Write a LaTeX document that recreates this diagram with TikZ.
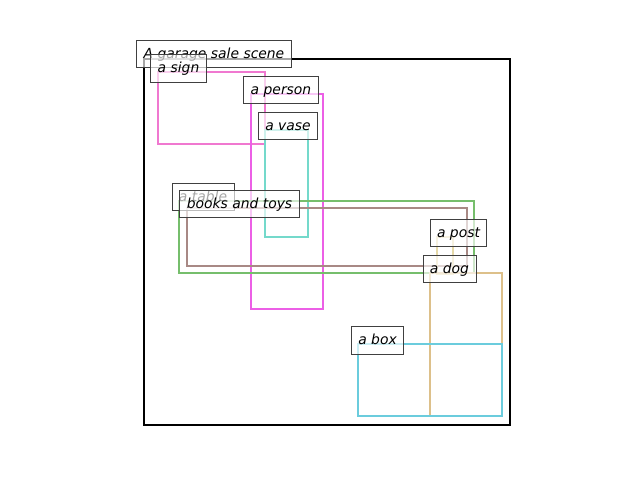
\documentclass[tikz,border=0pt]{standalone}
\usepackage{fontspec}
\setmainfont{DejaVu Sans}
\usepackage{xcolor}
\usetikzlibrary{positioning}
\definecolor{signpink}{HTML}{F078D0}
\definecolor{personmag}{HTML}{EC5FE6}
\definecolor{vaseteal}{HTML}{74D9CB}
\definecolor{tablebrown}{HTML}{A88985}
\definecolor{booksgreen}{HTML}{76BE6C}
\definecolor{posttan}{HTML}{E6D9A8}
\definecolor{dogtan}{HTML}{DDC08A}
\definecolor{boxcyan}{HTML}{6BCCDD}
\definecolor{ink}{HTML}{404040}
\tikzset{
    every picture/.style={line join=miter},
    scenebox/.style={draw=black,line width=1.6pt},
    objbox/.style={line width=1.6pt,line cap=round},
    tag/.style={draw=ink,line width=0.6pt,fill=white,fill opacity=0.65,text opacity=1,
      font=\itshape,inner xsep=5pt,inner ysep=0pt,minimum height=19.8pt,
      text height=1.5ex,text depth=0.4ex}
}

\begin{document}
\begin{tikzpicture}[x=0.72pt,y=-0.72pt]
  \useasboundingbox (0,0) rectangle (640,480);
  \draw[scenebox] (144,59) rectangle (510,425);

  % object boxes
  \draw[objbox,signpink] (158,72) rectangle (265,144);
  \draw[objbox,personmag] (251,94) rectangle (323,309);
  \draw[objbox,vaseteal] (265,130) rectangle (308,237);
  \draw[objbox,tablebrown] (187,208) rectangle (467,266);
  \draw[objbox,booksgreen] (179,201) rectangle (474,273);
  \draw[objbox,posttan] (437,237) rectangle (453,274);
  \draw[objbox,dogtan] (430,273) rectangle (502,416);
  \draw[objbox,boxcyan] (358,344) rectangle (502,416);

  % labels
  \node[tag] (scene) at (214,54) {A garage sale scene};
  \node[tag] (sign) at (178.5,68.5) {a sign};
  \node[tag] (person) at (281,90) {a person};
  \node[tag] (vase) at (288,126) {a vase};
  \node[tag] (table) at (203,197) {a table};
  \node[tag] (books) at (239.5,204) {books and toys};
  \node[tag] (post) at (458.5,233) {a post};
  \node[tag] (dog) at (449.5,269) {a dog};
  \node[tag] (box) at (377.5,340.5) {a box};
\end{tikzpicture}
\end{document}
